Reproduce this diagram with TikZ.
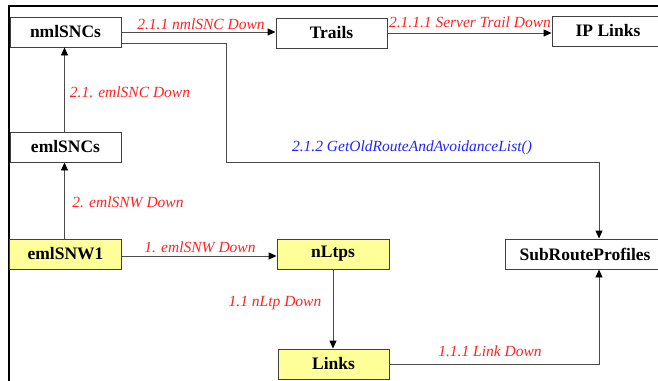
\documentclass[tikz,border=0pt]{standalone}
\usepackage{fontspec}
\setmainfont{Liberation Serif}
\usetikzlibrary{arrows.meta}
\definecolor{lbred}{RGB}{255,35,35}
\definecolor{lbblue}{RGB}{35,35,255}
\definecolor{boxfill}{RGB}{255,255,153}
\definecolor{wire}{RGB}{75,75,75}
\begin{document}
\begin{tikzpicture}[x=1pt,y=-1pt,
  obj/.style={draw=black!75, line width=0.9pt, minimum height=30pt, inner sep=0pt,
    font=\fontsize{17.5}{20}\selectfont\bfseries},
  plain/.style={obj, fill=white},
  hot/.style={obj, fill=boxfill},
  link/.style={draw=wire, line width=0.9pt, -{Triangle[color=black,length=8pt,width=7pt]}},
  msg/.style={font=\fontsize{15.5}{18}\selectfont\itshape, text=lbred, inner sep=0pt},
  qry/.style={msg, text=lbblue}]
\useasboundingbox (0,0) rectangle (658,380);
\clip (0,0) rectangle (658,380);

% frame
\draw[line width=2pt] (670,6.3) -- (8.7,6.3) -- (8.7,390);

% objects
\node[plain, minimum width=111pt] (nml)   at (65.5,32)  {nmlSNCs};
\node[plain, minimum width=111pt] (trl)   at (331.5,33) {Trails};
\node[plain, minimum width=112pt] (ipl)   at (608,31)   {IP Links};
\node[plain, minimum width=111pt] (emlc)  at (65.5,147) {emlSNCs};
\node[hot,   minimum width=112pt] (emlw)  at (65.5,254) {emlSNW1};
\node[hot,   minimum width=112pt] (nltp)  at (333,254)  {nLtps};
\node[plain, minimum width=160pt] (srp)   at (585,254)  {SubRouteProfiles};
\node[hot,   minimum width=111pt] (lnk)   at (333.5,364) {Links};

\coordinate (bend) at (226,162);

% messages
\draw[link] (nml.east) -- (nml.east -| trl.west);
\draw[link] (trl.east) -- (trl.east -| ipl.west);
\draw[link] ([xshift=-1pt]emlc.north) -- ([xshift=-1pt]nml.south);
\draw[link] ([xshift=-1pt]emlw.north) -- ([xshift=-1pt]emlw.north |- emlc.south);
\draw[link] ([yshift=-2pt]emlw.east) -- ([yshift=-2pt]emlw.east -| nltp.west);
\draw[link] (nltp.south) -- (nltp.south |- lnk.north);
\draw[link] (lnk.east) -| ([xshift=14pt]srp.south);
\draw[link] ([yshift=-11pt]nml.east) -| (bend) -| ([xshift=14pt]srp.north);

% labels
\node[msg] (l1) at (201,24)  {2.1.1 nmlSNC Down};
\node[msg] (l2) at (470,22)  {2.1.1.1 Server Trail Down};
\node[msg] (l3) at (130,92)  {2.1. emlSNC Down};
\node[msg] (l4) at (128,202) {2. emlSNW Down};
\node[msg] (l5) at (200,247) {1. emlSNW Down};
\node[msg] (l6) at (275,303) {1.1 nLtp Down};
\node[msg] (l7) at (490,351) {1.1.1 Link Down};
\node[qry] (l8) at (412,148) {2.1.2 GetOldRouteAndAvoidanceList()};
\end{tikzpicture}
\end{document}
